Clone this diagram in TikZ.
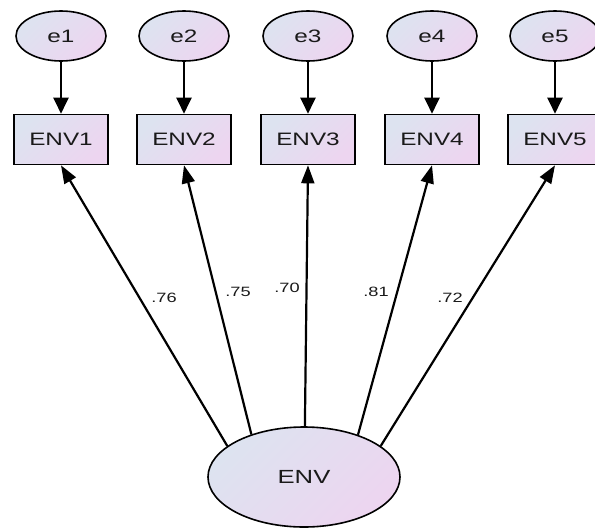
\documentclass[tikz,border=0pt]{standalone}
\usepackage{fontspec}
\newfontfamily\lblfont[FakeStretch=1.35]{Liberation Sans}
\usetikzlibrary{arrows.meta,shapes.geometric}
\definecolor{shadeA}{HTML}{DDE3F0}
\definecolor{shadeB}{HTML}{EDD5F0}
\definecolor{txt}{HTML}{1A1A1A}
\tikzset{
  fillgrad/.style={left color=shadeA, right color=shadeB, shading angle=45},
  errvar/.style={ellipse, draw=black, line width=1.6pt, fillgrad,
    minimum width=90pt, minimum height=50pt, inner sep=0pt,
    font=\lblfont\fontsize{18}{20}\selectfont, text=txt},
  obsvar/.style={rectangle, draw=black, line width=1.6pt, fillgrad,
    minimum width=94pt, minimum height=50pt, inner sep=0pt,
    font=\lblfont\fontsize{18}{20}\selectfont, text=txt},
  latvar/.style={ellipse, draw=black, line width=1.6pt, fillgrad,
    minimum width=192pt, minimum height=100pt, inner sep=0pt,
    font=\lblfont\fontsize{19}{21}\selectfont, text=txt},
  errarrow/.style={line width=2.2pt, -{Triangle[length=16pt,width=15pt]}},
  loadarrow/.style={line width=2.2pt, -{Triangle[length=18pt,width=13pt]}},
  coef/.style={font=\lblfont\fontsize{13.5}{15}\selectfont, text=txt, inner sep=0pt}
}
\begin{document}
\begin{tikzpicture}[x=1pt,y=-1pt]
\useasboundingbox (0,0) rectangle (595,528);
\fill[white] (0,0) rectangle (595,528);
% error terms
\node[errvar] (e1) at (61,36) {e1};
\node[errvar] (e2) at (184,36) {e2};
\node[errvar] (e3) at (308,36) {e3};
\node[errvar] (e4) at (432,36) {e4};
\node[errvar] (e5) at (555,36) {e5};
% observed
\node[obsvar] (b1) at (61,139.5) {ENV1};
\node[obsvar] (b2) at (184,139.5) {ENV2};
\node[obsvar] (b3) at (308,139.5) {ENV3};
\node[obsvar] (b4) at (432,139.5) {ENV4};
\node[obsvar] (b5) at (555,139.5) {ENV5};
% latent
\node[latvar] (ENV) at (304,477) {ENV};
% error arrows
\foreach \i in {1,...,5}{
  \draw[errarrow] (e\i) -- (b\i);
}
% loadings
\draw[loadarrow] (ENV.158) -- (b1.south);
\draw[loadarrow] (ENV.141) -- (b2.south);
\draw[loadarrow] (ENV.89) -- (b3.south);
\draw[loadarrow] (ENV.38) -- (b4.south);
\draw[loadarrow] (ENV.22) -- (b5.south);
% coefficients
\node[coef] (c1) at (164,298) {.76};
\node[coef] (c2) at (238,292) {.75};
\node[coef] (c3) at (287,288) {.70};
\node[coef] (c4) at (376,292) {.81};
\node[coef] (c5) at (450,298) {.72};
\end{tikzpicture}
\end{document}
